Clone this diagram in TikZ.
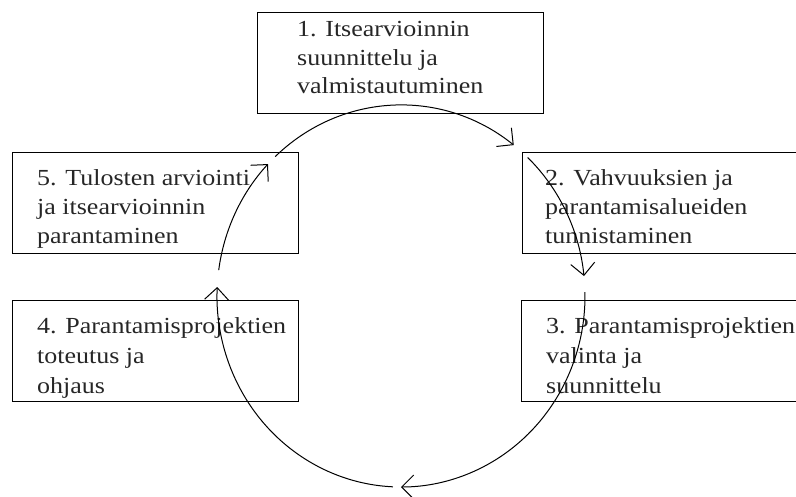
\documentclass[tikz,border=0pt]{standalone}
\usepackage{fontspec}
\setmainfont{Liberation Serif}[FakeStretch=1.13]
\usetikzlibrary{arrows.meta}
\begin{document}
\begin{tikzpicture}[x=1pt,y=-1pt,
  frame/.style={draw, line width=1.3pt, rectangle, anchor=north west, inner sep=0pt,
    minimum width=286pt, minimum height=101pt},
  phase/.style={anchor=north west, inner sep=0pt, align=left,
    font=\fontsize{23}{#1}\selectfont, text=black!85},
  phase/.default=29pt,
  flow/.style={line width=1pt, -{Straight Barb[length=12pt,width=24pt,line width=1pt]}}]
\useasboundingbox (0,0) rectangle (796,496);
\clip (0,0) rectangle (796,496);

% the five phase boxes
\node[frame] (b1) at (257,12) {};
\node[frame, minimum width=290pt] (b2) at (522,152) {};
\node[frame, minimum width=290pt] (b3) at (521,300) {};
\node[frame] (b4) at (12,300) {};
\node[frame] (b5) at (12,152) {};

% their texts; each starts with a 20pt strut, so the first baseline is 20pt below the anchor
\newcommand\topline{\rule{0pt}{20pt}}
\node[phase=28.5pt] (t1) at (297,16.5) {\topline 1. Itsearvioinnin\\suunnittelu ja\\valmistautuminen};
\node[phase] (t2) at (545,165) {\topline 2. Vahvuuksien ja\\parantamisalueiden\\tunnistaminen};
\node[phase=30pt] (t3) at (546,313.5) {\topline 3. Parantamisprojektien\\valinta ja\\suunnittelu};
\node[phase=30pt] (t4) at (37,313.5) {\topline 4. Parantamisprojektien\\toteutus ja\\ohjaus};
\node[phase] (t5) at (37,165) {\topline 5. Tulosten arviointi\\ja itsearvioinnin\\parantaminen};

% the cycle: five arcs of one ellipse
\coordinate (c) at (401,296);
\def\rx{184}\def\ry{191}
\draw[flow] ([shift={(-133.1:\rx\space and \ry)}]c)
  arc[start angle=-133.1, end angle=-52.2, x radius=\rx, y radius=\ry];
\draw[flow] ([shift={(-46.5:\rx\space and \ry)}]c)
  arc[start angle=-46.5, end angle=-6, x radius=\rx, y radius=\ry];
\draw[flow] ([shift={(-1.2:\rx\space and \ry)}]c)
  arc[start angle=-1.2, end angle=90, x radius=\rx, y radius=\ry];
\draw[flow] ([shift={(92.5:\rx\space and \ry)}]c)
  arc[start angle=92.5, end angle=182.7, x radius=\rx, y radius=\ry];
\draw[flow] ([shift={(187.8:\rx\space and \ry)}]c)
  arc[start angle=187.8, end angle=223.7, x radius=\rx, y radius=\ry];
\end{tikzpicture}
\end{document}
